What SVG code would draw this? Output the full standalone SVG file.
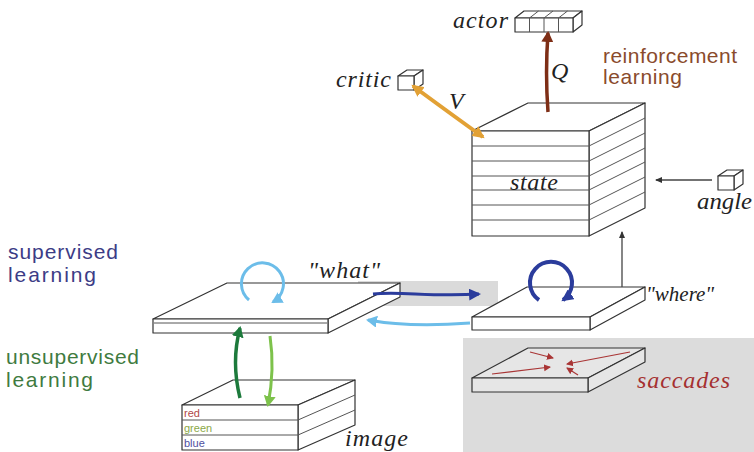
<svg xmlns="http://www.w3.org/2000/svg" width="754" height="452" viewBox="0 0 754 452">
<style>
.face{fill:#ffffff;stroke:#333;stroke-width:1.2;stroke-linejoin:round}
.gface{fill:#e6e6e6;stroke:#333;stroke-width:1.2;stroke-linejoin:round}
.band{stroke:#555;stroke-width:1}
.it{font-family:"Liberation Serif","DejaVu Serif",serif;font-style:italic;font-size:24px;fill:#222}
.sans{font-family:"Liberation Sans",Arial,sans-serif;font-size:21px}
.small{font-family:"Liberation Sans",Arial,sans-serif;font-size:11px}
</style>
<defs>
<marker id="mOr" markerUnits="userSpaceOnUse" markerWidth="14" markerHeight="12" refX="10" refY="6" orient="auto-start-reverse"><path d="M0,0 L12,6 L0,12 z" fill="#E2A135"/></marker>
<marker id="mBr" markerUnits="userSpaceOnUse" markerWidth="12" markerHeight="12" refX="9" refY="6" orient="auto"><path d="M0,0 L11,6 L0,12 z" fill="#7E2E16"/></marker>
<marker id="mDb" markerUnits="userSpaceOnUse" markerWidth="14" markerHeight="12" refX="10" refY="6" orient="auto"><path d="M0,0 L12,6 L0,12 z" fill="#2B3C9C"/></marker>
<marker id="mLb" markerUnits="userSpaceOnUse" markerWidth="12" markerHeight="12" refX="9" refY="6" orient="auto"><path d="M0,0 L11,6 L0,12 z" fill="#6CBDE9"/></marker>
<marker id="mDg" markerUnits="userSpaceOnUse" markerWidth="12" markerHeight="12" refX="9" refY="6" orient="auto"><path d="M0,0 L11,6 L0,12 z" fill="#1D7A3C"/></marker>
<marker id="mLg" markerUnits="userSpaceOnUse" markerWidth="12" markerHeight="12" refX="9" refY="6" orient="auto"><path d="M0,0 L11,6 L0,12 z" fill="#7DC24B"/></marker>
<marker id="mRd" markerUnits="userSpaceOnUse" markerWidth="8" markerHeight="8" refX="6" refY="4" orient="auto"><path d="M0,0.5 L7,4 L0,7.5 z" fill="#A93535"/></marker>
<marker id="mBk" markerUnits="userSpaceOnUse" markerWidth="8" markerHeight="8" refX="6" refY="4" orient="auto"><path d="M0,1 L7,4 L0,7 z" fill="#333"/></marker>
</defs>
<rect width="754" height="452" fill="#ffffff"/>
<rect x="463" y="338" width="291" height="114" fill="#dcdcdc"/>
<rect x="358" y="281" width="140" height="25" fill="#dadada"/>

<g id="actor">
<path class="face" d="M515,18 L524,11 L582,11 L573,18 z"/>
<path class="face" d="M573,18 L582,11 L582,25 L573,32 z"/>
<rect class="face" x="515" y="18" width="58" height="14"/>
<path class="band" d="M529.5,18 V32 M544,18 V32 M558.5,18 V32 M529.5,18 L538.5,11 M544,18 L553,11 M558.5,18 L567.5,11"/>
<text class="it" x="453" y="28" textLength="55" lengthAdjust="spacing">actor</text>
</g>

<g id="critic">
<path class="face" d="M398,76 L407,70 L423,70 L414,76 z"/>
<path class="face" d="M414,76 L423,70 L423,84 L414,90 z"/>
<rect class="face" x="398" y="76" width="16" height="14"/>
<text class="it" x="336" y="87" textLength="55" lengthAdjust="spacing">critic</text>
</g>

<g id="reinforcement-label">
<text class="sans" x="603" y="63" fill="#8A4B2C" textLength="134" lengthAdjust="spacing">reinforcement</text>
<text class="sans" x="603" y="84" fill="#8A4B2C" textLength="79" lengthAdjust="spacing">learning</text>
</g>

<g id="state">
<path class="face" d="M472,131 L528,103 L645,103 L589,131 z"/>
<path class="face" d="M589,131 L645,103 L645,208 L589,236 z"/>
<rect class="face" x="472" y="131" width="117" height="105"/>
<path class="band" d="M472,146 H589 M472,161 H589 M472,176 H589 M472,190 H589 M472,205 H589 M472,220 H589"/>
<path class="band" d="M589,146 L645,118 M589,161 L645,133 M589,176 L645,148 M589,190 L645,162 M589,205 L645,177 M589,220 L645,192"/>
<text class="it" x="510" y="190" textLength="48" lengthAdjust="spacing">state</text>
</g>

<g id="angle">
<path class="face" d="M718,176 L727,170 L743,170 L734,176 z"/>
<path class="face" d="M734,176 L743,170 L743,184 L734,190 z"/>
<rect class="face" x="718" y="176" width="16" height="14"/>
<text class="it" x="697" y="209" textLength="55" lengthAdjust="spacingAndGlyphs">angle</text>
</g>

<g id="supervised-label">
<text class="sans" x="8" y="259" fill="#3C3C86" textLength="110" lengthAdjust="spacing">supervised</text>
<text class="sans" x="8" y="282" fill="#3C3C86" textLength="88" lengthAdjust="spacing">learning</text>
</g>

<g id="unsupervised-label">
<text class="sans" x="6" y="364" fill="#3F7B3F" textLength="133" lengthAdjust="spacing">unsupervised</text>
<text class="sans" x="6" y="387" fill="#3F7B3F" textLength="87" lengthAdjust="spacing">learning</text>
</g>

<g id="what">
<path class="face" d="M153,319 L227,283 L400,283 L328,319 z"/>
<path class="face" d="M328,319 L400,283 L400,297 L328,333 z"/>
<rect class="face" x="153" y="319" width="175" height="14"/>
<path class="band" d="M154,323 H327" stroke="#aaa"/>
<text class="it" x="308" y="278" textLength="72" lengthAdjust="spacing">"what"</text>
</g>

<g id="where">
<path class="face" d="M472,317 L527,287 L645,287 L590,317 z"/>
<path class="face" d="M590,317 L645,287 L645,300 L590,330 z"/>
<rect class="face" x="472" y="317" width="118" height="13"/>
<text class="it" x="646" y="301" style="font-size:21px">"where"</text>
</g>

<g id="saccades">
<path class="gface" d="M472,378 L528,348 L645,348 L588,378 z"/>
<path class="gface" d="M588,378 L645,348 L645,362 L588,392 z"/>
<rect class="gface" x="472" y="378" width="116" height="14"/>
<g fill="none" stroke="#A93535" stroke-width="1.2">
<path d="M530,352 L553,358" marker-end="url(#mRd)"/>
<path d="M630,352 L567,364" marker-end="url(#mRd)"/>
<path d="M492,374 L550,367" marker-end="url(#mRd)"/>
<path d="M578,375 L567,368" marker-end="url(#mRd)"/>
</g>
<text class="it" x="637" y="388" textLength="93" lengthAdjust="spacing" style="fill:#A53030">saccades</text>
</g>

<g id="image">
<path class="face" d="M182,405 L233,380 L355,380 L298,405 z"/>
<path class="face" d="M298,405 L355,380 L355,425 L298,450 z"/>
<rect class="face" x="182" y="405" width="116" height="45"/>
<path class="band" d="M182,420 H298 M182,435 H298 M298,420 L355,395 M298,435 L355,410"/>
<text class="small" x="184" y="417" fill="#B04848">red</text>
<text class="small" x="184" y="432" fill="#8AA848">green</text>
<text class="small" x="184" y="447" fill="#5050A0">blue</text>
<text class="it" x="345" y="446" textLength="63" lengthAdjust="spacing">image</text>
</g>

<g id="connectors" fill="none">
<path d="M483,137 Q440,106 413,86" stroke="#E2A135" stroke-width="4" marker-start="url(#mOr)" marker-end="url(#mOr)"/>
<path d="M548,112 C546,85 546,60 548,33" stroke="#7E2E16" stroke-width="3.5" marker-end="url(#mBr)"/>
<path d="M712,180 L656,180" stroke="#444" stroke-width="1.3" marker-end="url(#mBk)"/>
<path d="M622,287 L622,232" stroke="#444" stroke-width="1.3" marker-end="url(#mBk)"/>
<path d="M249,300 A21,21 0 1 1 273,302" stroke="#6CBDE9" stroke-width="3" marker-end="url(#mLb)"/>
<path d="M539,300 A21,21 0 1 1 563,300" stroke="#2B3C9C" stroke-width="4" marker-end="url(#mDb)"/>
<path d="M373,294 C400,291 430,297 479,294" stroke="#2B3C9C" stroke-width="3" marker-end="url(#mDb)"/>
<path d="M470,323 C430,326 395,325 368,320" stroke="#6CBDE9" stroke-width="3" marker-end="url(#mLb)"/>
<path d="M240,398 Q231,362 240,328" stroke="#1D7A3C" stroke-width="3.5" marker-end="url(#mDg)"/>
<path d="M270,336 Q275,370 268,405" stroke="#7DC24B" stroke-width="3" marker-end="url(#mLg)"/>
</g>

<g id="labels">
<text class="it" x="551" y="79">Q</text>
<text class="it" x="449" y="109">V</text>
</g>
</svg>
